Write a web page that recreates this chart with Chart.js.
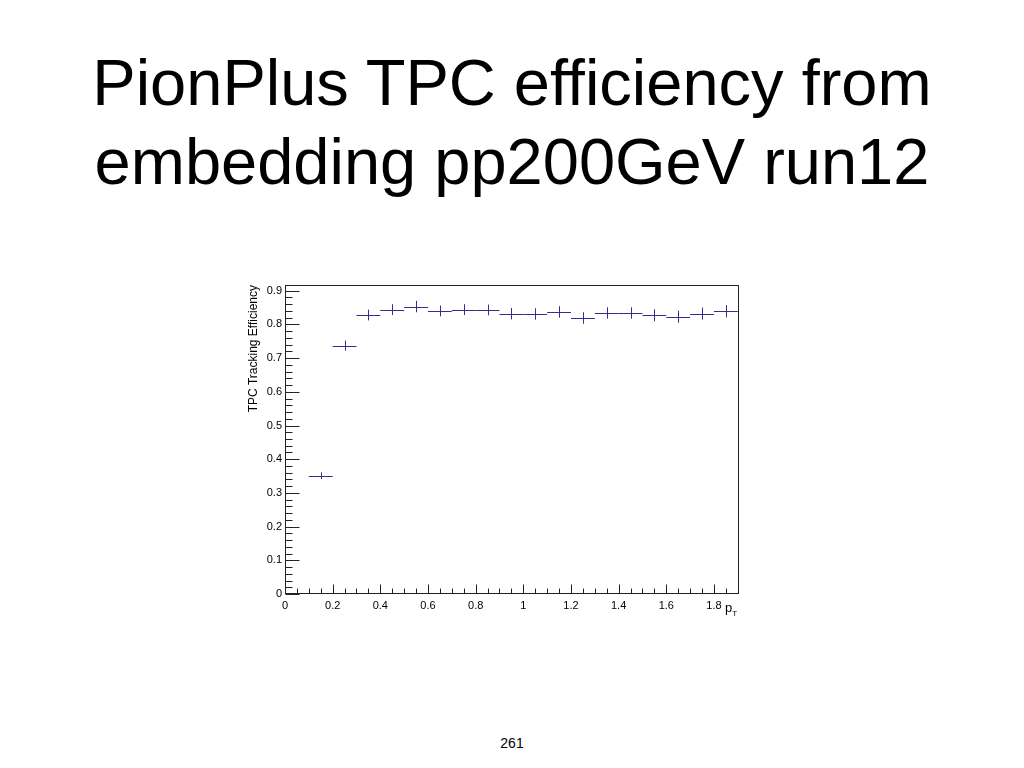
<!DOCTYPE html>
<html>
<head>
<meta charset="utf-8">
<script src="https://cdn.jsdelivr.net/npm/chart.js@4.4.1/dist/chart.umd.min.js"></script>
<style>
  body { margin: 0; width: 1024px; height: 768px; background: #fff; position: relative; overflow: hidden;
         font-family: "Liberation Sans", Arial, Helvetica, sans-serif; }
  #title { position: absolute; left: 0; top: 43px; width: 1024px; text-align: center;
           font-size: 65px; line-height: 79px; color: #000; }
  #page { position: absolute; left: 0; top: 736px; width: 1024px; text-align: center;
          font-size: 14px; line-height: 14px; color: #000; }
  #xtitle { position: absolute; left: 725px; top: 601px; font-size: 13px; line-height: 14px; color: #000; }
  #xtitle sub { font-size: 8px; vertical-align: -4px; }
  #wrap { position: absolute; left: 240px; top: 275px; width: 520px; height: 360px; }
</style>
</head>
<body>
<div id="title">PionPlus TPC efficiency from<br>embedding pp200GeV run12</div>
<div id="wrap"><canvas id="myChart" width="520" height="360"></canvas></div>
<div id="xtitle">p<sub>T</sub></div>
<div id="page">261</div>

<script>
// histogram bins (pT), efficiency and errors
const binCenters = [0.15, 0.25, 0.35, 0.45, 0.55, 0.65, 0.75, 0.85, 0.95,
                    1.05, 1.15, 1.25, 1.35, 1.45, 1.55, 1.65, 1.75, 1.85];
const binHalfWidth = 0.05;
const efficiency = [0.351, 0.737, 0.828, 0.844, 0.853, 0.840, 0.844, 0.843, 0.832,
                    0.831, 0.837, 0.819, 0.834, 0.834, 0.827, 0.823, 0.832, 0.839];
const efficiencyErr = [0.010, 0.015, 0.016, 0.016, 0.017, 0.016, 0.016, 0.016, 0.017,
                       0.017, 0.017, 0.017, 0.017, 0.017, 0.018, 0.018, 0.018, 0.018];

const markColor = '#2e2e96';
const fontFam = '"Liberation Sans", Arial, Helvetica, sans-serif';

// ROOT-like error bars: horizontal = bin width, vertical = stat error
const errorBars = {
  id: 'errorBars',
  afterDatasetsDraw(chart) {
    const xs = chart.scales.x, ys = chart.scales.y, c = chart.ctx;
    c.save();
    c.strokeStyle = markColor;
    c.lineWidth = 1;
    chart.data.datasets[0].data.forEach((p, i) => {
      const y = Math.round(ys.getPixelForValue(p.y)) + 0.5;
      const x = Math.round(xs.getPixelForValue(p.x)) + 0.5;
      c.beginPath();
      c.moveTo(xs.getPixelForValue(p.x - binHalfWidth), y);
      c.lineTo(xs.getPixelForValue(p.x + binHalfWidth), y);
      c.moveTo(x, ys.getPixelForValue(p.y - efficiencyErr[i]));
      c.lineTo(x, ys.getPixelForValue(p.y + efficiencyErr[i]));
      c.stroke();
    });
    c.restore();
  }
};

// frame + inside tick marks
const rootFrame = {
  id: 'rootFrame',
  afterDraw(chart) {
    const a = chart.chartArea, xs = chart.scales.x, ys = chart.scales.y, c = chart.ctx;
    c.save();
    c.strokeStyle = '#222';
    c.lineWidth = 1;
    c.strokeRect(Math.round(a.left) + 0.5, Math.round(a.top) + 0.5,
                 Math.round(a.right - a.left) - 1, Math.round(a.bottom - a.top) - 1);
    c.beginPath();
    const bottom = Math.round(a.bottom) - 0.5;
    for (let i = 0; i * 0.05 <= xs.max + 1e-9; i++) {
      const x = Math.round(xs.getPixelForValue(i * 0.05)) + 0.5;
      const len = i % 4 === 0 ? 9 : 5;
      c.moveTo(x, bottom);
      c.lineTo(x, bottom - len);
    }
    const left = Math.round(a.left) + 0.5;
    for (let i = 0; i * 0.02 <= ys.max + 1e-9; i++) {
      const y = Math.round(ys.getPixelForValue(i * 0.02)) + 0.5;
      const len = i % 5 === 0 ? 14 : 7;
      c.moveTo(left, y);
      c.lineTo(left + len, y);
    }
    c.stroke();
    c.restore();
  }
};

const ctx = document.getElementById('myChart');

new Chart(ctx, {
  type: 'scatter',
  data: {
    datasets: [{
      label: 'efficiency',
      data: binCenters.map((x, i) => ({ x: x, y: efficiency[i] })),
      pointRadius: 0,
      showLine: false
    }]
  },
  options: {
    responsive: false,
    animation: false,
    layout: { padding: { top: 10, right: 21, left: 0, bottom: 0 } },
    plugins: { legend: { display: false }, tooltip: { enabled: false } },
    scales: {
      x: {
        type: 'linear',
        min: 0,
        max: 1.905,
        grid: { display: false, drawTicks: false },
        border: { display: false },
        ticks: {
          stepSize: 0.2,
          includeBounds: false,
          padding: 5,
          maxRotation: 0,
          autoSkip: false,
          color: '#000',
          font: { family: fontFam, size: 11 },
          callback: v => String(Number(v.toFixed(1)))
        },
        afterFit(s) { s.height = 41; }
      },
      y: {
        type: 'linear',
        min: 0,
        max: 0.917,
        grid: { display: false, drawTicks: false },
        border: { display: false },
        ticks: {
          stepSize: 0.1,
          includeBounds: false,
          padding: 3,
          color: '#000',
          font: { family: fontFam, size: 11 },
          callback: v => String(Number(v.toFixed(1)))
        },
        title: {
          display: true,
          text: 'TPC Tracking Efficiency',
          align: 'end',
          color: '#000',
          font: { family: fontFam, size: 12 },
          padding: { top: 6, bottom: 0 }
        },
        afterFit(s) { s.width = 45; }
      }
    }
  },
  plugins: [errorBars, rootFrame]
});
</script>
</body>
</html>
